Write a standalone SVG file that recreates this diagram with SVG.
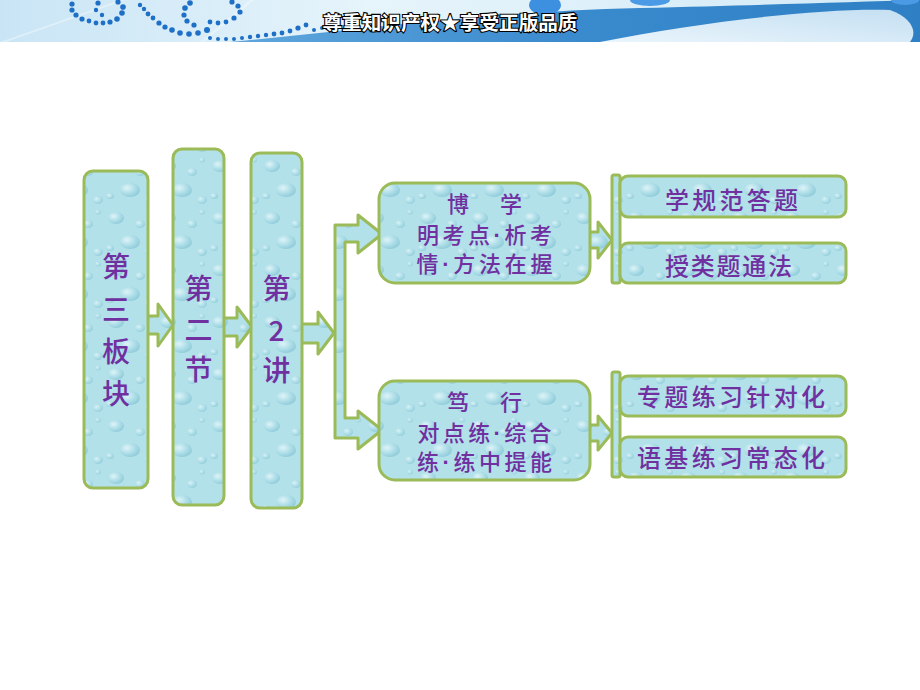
<svg xmlns="http://www.w3.org/2000/svg" width="920" height="690" viewBox="0 0 920 690">
<defs>
  <linearGradient id="hdrBg" x1="0" y1="0" x2="1" y2="0">
    <stop offset="0" stop-color="#c9e5f5"/>
    <stop offset="0.4" stop-color="#e6f4fb"/>
    <stop offset="1" stop-color="#d2eaf7"/>
  </linearGradient>
  <linearGradient id="band" x1="0" y1="0" x2="1" y2="0">
    <stop offset="0" stop-color="#5fa6dc"/>
    <stop offset="0.5" stop-color="#3a8ace"/>
    <stop offset="1" stop-color="#2f7fc4"/>
  </linearGradient>
  <linearGradient id="swoosh" x1="0" y1="1" x2="1" y2="0">
    <stop offset="0" stop-color="#eaf5fc"/>
    <stop offset="1" stop-color="#c4dff2"/>
  </linearGradient>
  <radialGradient id="drop" cx="0.35" cy="0.35" r="0.7">
    <stop offset="0" stop-color="#e8f8fb"/>
    <stop offset="0.6" stop-color="#a9dbe6"/>
    <stop offset="1" stop-color="#86c5d4"/>
  </radialGradient>
  <pattern id="water" patternUnits="userSpaceOnUse" width="52" height="52">
    <rect width="52" height="52" fill="#b2e1ea"/>
    <ellipse cx="12" cy="10" rx="8" ry="6" fill="url(#drop)" opacity="0.8"/>
    <ellipse cx="36" cy="16" rx="5" ry="4" fill="url(#drop)" opacity="0.7"/>
    <ellipse cx="26" cy="34" rx="10" ry="7" fill="url(#drop)" opacity="0.8"/>
    <ellipse cx="6" cy="40" rx="4" ry="3" fill="url(#drop)" opacity="0.7"/>
    <ellipse cx="46" cy="44" rx="5" ry="4" fill="url(#drop)" opacity="0.7"/>
    <ellipse cx="46" cy="4" rx="3" ry="2.5" fill="url(#drop)" opacity="0.6"/>
  </pattern>
  <style>
    .shape { fill: url(#water); stroke: #9bbb59; stroke-width: 3; stroke-linejoin: round; }
    .lbl { font-family: "Noto Sans CJK SC", "Noto Sans CJK TC", sans-serif; font-weight: 500; fill: #7030a0; text-anchor: middle; }
    .v { font-size: 28px; }
    .m { font-size: 22px; }
    .r { font-size: 24px; }
    .d { font-family: "Liberation Sans", sans-serif; font-weight: bold; }
    .dot { fill: #1e6fc6; }
  </style>
</defs>

<rect width="920" height="690" fill="#ffffff"/>

<!-- header banner -->
<g id="header">
  <rect x="0" y="0" width="920" height="42" fill="url(#hdrBg)"/>
  <path d="M 230 42 C 360 30 480 12 640 8 C 760 5 850 2 920 0 L 920 42 Z" fill="url(#band)"/>
  <path d="M 600 42 C 700 22 820 8 890 10 C 912 18 918 32 910 42 Z" fill="url(#swoosh)"/>
  <path d="M 0 42 L 120 0 L 126 0 L 6 42 Z" fill="#ffffff" opacity="0.35"/>
  <path d="M 200 42 L 250 0 L 254 0 L 204 42 Z" fill="#ffffff" opacity="0.3"/>
  <ellipse cx="545" cy="5" rx="16" ry="10" fill="#3d8fe0"/>
  <ellipse cx="650" cy="0" rx="20" ry="6" fill="#4a9ae6"/>
  <ellipse cx="905" cy="0" rx="14" ry="5" fill="#4a9ae6"/>
  <g class="dots">
    <circle class="dot" cx="72" cy="4" r="2.6"/>
    <circle class="dot" cx="72" cy="10" r="2.6"/>
    <circle class="dot" cx="76" cy="15" r="2.6"/>
    <circle class="dot" cx="82" cy="19" r="2.6"/>
    <circle class="dot" cx="89" cy="21" r="2.4"/>
    <circle class="dot" cx="96" cy="23" r="2.4"/>
    <circle class="dot" cx="103" cy="23" r="2.4"/>
    <circle class="dot" cx="110" cy="22" r="2.6"/>
    <circle class="dot" cx="117" cy="19" r="2.8"/>
    <circle class="dot" cx="122" cy="13" r="2.8"/>
    <circle class="dot" cx="123" cy="7" r="2.8"/>
    <circle class="dot" cx="118" cy="2" r="2.6"/>
    <circle class="dot" cx="98" cy="3" r="2.6"/>
    <circle class="dot" cx="96" cy="10" r="2.2"/>
    <circle class="dot" cx="102" cy="15" r="2.2"/>
    <circle class="dot" cx="140" cy="5" r="2.2"/>
    <circle class="dot" cx="144" cy="9" r="2.2"/>
    <circle class="dot" cx="148" cy="14" r="2.4"/>
    <circle class="dot" cx="153" cy="18" r="2.4"/>
    <circle class="dot" cx="159" cy="23" r="2.6"/>
    <circle class="dot" cx="165" cy="27" r="2.6"/>
    <circle class="dot" cx="172" cy="30" r="2.8"/>
    <circle class="dot" cx="180" cy="33" r="2.8"/>
    <circle class="dot" cx="189" cy="34" r="2.8"/>
    <circle class="dot" cx="198" cy="33" r="2.8"/>
    <circle class="dot" cx="207" cy="30" r="3"/>
    <circle class="dot" cx="185" cy="8" r="2.8"/>
    <circle class="dot" cx="190" cy="3" r="2.8"/>
    <circle class="dot" cx="184" cy="15" r="2.6"/>
    <circle class="dot" cx="187" cy="21" r="2.6"/>
    <circle class="dot" cx="194" cy="25" r="2.6"/>
    <circle class="dot" cx="210" cy="22" r="2.4"/>
    <circle class="dot" cx="218" cy="23" r="2.4"/>
    <circle class="dot" cx="226" cy="22" r="2.4"/>
    <circle class="dot" cx="234" cy="18" r="2.6"/>
    <circle class="dot" cx="240" cy="12" r="2.6"/>
    <circle class="dot" cx="238" cy="6" r="2.6"/>
    <circle class="dot" cx="232" cy="2" r="2.6"/>
    <circle class="dot" cx="210" cy="38" r="2"/>
    <circle class="dot" cx="218" cy="39" r="2"/>
    <circle class="dot" cx="226" cy="39" r="2"/>
    <circle class="dot" cx="234" cy="39" r="2"/>
    <circle class="dot" cx="242" cy="38" r="2"/>
    <circle class="dot" cx="250" cy="37" r="2.2"/>
    <circle class="dot" cx="258" cy="36" r="2.2"/>
    <circle class="dot" cx="266" cy="35" r="2.2"/>
    <circle class="dot" cx="274" cy="34" r="2.4"/>
    <circle class="dot" cx="282" cy="33" r="2.4"/>
    <circle class="dot" cx="290" cy="31" r="2.4"/>
    <circle class="dot" cx="298" cy="28" r="2.6"/>
    <circle class="dot" cx="306" cy="25" r="2.4"/>
    <circle class="dot" cx="314" cy="30" r="2"/>
    <circle class="dot" cx="322" cy="28" r="2"/>
  </g>
  <text x="450" y="30" font-family="'Noto Sans CJK SC', sans-serif" font-size="19" font-weight="bold" fill="#ffffff" stroke="#000000" stroke-width="2.2" paint-order="stroke" text-anchor="middle" textLength="255" lengthAdjust="spacingAndGlyphs">尊重知识产权★享受正版品质</text>
</g>

<!-- connectors -->
<g id="connectors">
  <polygon class="shape" points="145,316 158,316 158,304 173,325 158,346 158,334 145,334"/>
  <polygon class="shape" points="222,318 237,318 237,307 252,327 237,347 237,336 222,336"/>
  <polygon class="shape" points="300,324 318,324 318,312 334,333 318,354 318,343 300,343"/>
  <polygon class="shape" points="335,225 358,225 358,215 382,234 358,253 358,242 345,242 345,418 358,418 358,411 382,430 358,449 358,438 335,438"/>
  <polygon class="shape" points="588,232 598,232 598,222 612,240 598,258 598,248 588,248"/>
  <polygon class="shape" points="588,425 598,425 598,416 612,433 598,450 598,441 588,441"/>
  <rect class="shape" x="612" y="175" width="8" height="108" rx="2"/>
  <rect class="shape" x="612" y="372" width="8" height="105" rx="2"/>
</g>

<!-- nodes -->
<g id="node-bankuai">
  <rect class="shape" x="84" y="171" width="64" height="317" rx="9"/>
  <text class="lbl v" x="116" y="277">第</text>
  <text class="lbl v" x="116" y="320">三</text>
  <text class="lbl v" x="116" y="362">板</text>
  <text class="lbl v" x="116" y="404">块</text>
</g>
<g id="node-jie">
  <rect class="shape" x="173" y="149" width="51" height="356" rx="9"/>
  <text class="lbl v" x="198.5" y="299">第</text>
  <text class="lbl v" x="198.5" y="340">二</text>
  <text class="lbl v" x="198.5" y="380">节</text>
</g>
<g id="node-jiang">
  <rect class="shape" x="251" y="153" width="51" height="355" rx="9"/>
  <text class="lbl v" x="276.5" y="299">第</text>
  <text class="lbl v" x="276.5" y="341">2</text>
  <text class="lbl v" x="276.5" y="381">讲</text>
</g>
<g id="node-boxue">
  <rect class="shape" x="379" y="183" width="211" height="100" rx="16"/>
  <text class="lbl m" x="484.5" y="212">博<tspan dx="31">学</tspan></text>
  <text class="lbl m" x="484.5" y="243" textLength="135" lengthAdjust="spacing">明考点<tspan class="d">·</tspan>析考</text>
  <text class="lbl m" x="484.5" y="272" textLength="136" lengthAdjust="spacing">情<tspan class="d">·</tspan>方法在握</text>
</g>
<g id="node-duxing">
  <rect class="shape" x="379" y="381" width="211" height="99" rx="16"/>
  <text class="lbl m" x="484.5" y="410">笃<tspan dx="31">行</tspan></text>
  <text class="lbl m" x="484.5" y="441" textLength="134" lengthAdjust="spacing">对点练<tspan class="d">·</tspan>综合</text>
  <text class="lbl m" x="484.5" y="470" textLength="135" lengthAdjust="spacing">练<tspan class="d">·</tspan>练中提能</text>
</g>
<g id="node-r1">
  <rect class="shape" x="620" y="176" width="226" height="41" rx="8"/>
  <text class="lbl r" x="731.5" y="209" textLength="133" lengthAdjust="spacing">学规范答题</text>
</g>
<g id="node-r2">
  <rect class="shape" x="620" y="243" width="226" height="40" rx="8"/>
  <text class="lbl r" x="728.5" y="275" textLength="127" lengthAdjust="spacing">授类题通法</text>
</g>
<g id="node-r3">
  <rect class="shape" x="620" y="376" width="226" height="40" rx="8"/>
  <text class="lbl r" x="731" y="406" textLength="188" lengthAdjust="spacing">专题练习针对化</text>
</g>
<g id="node-r4">
  <rect class="shape" x="620" y="437" width="226" height="40" rx="8"/>
  <text class="lbl r" x="731" y="467" textLength="188" lengthAdjust="spacing">语基练习常态化</text>
</g>
</svg>
